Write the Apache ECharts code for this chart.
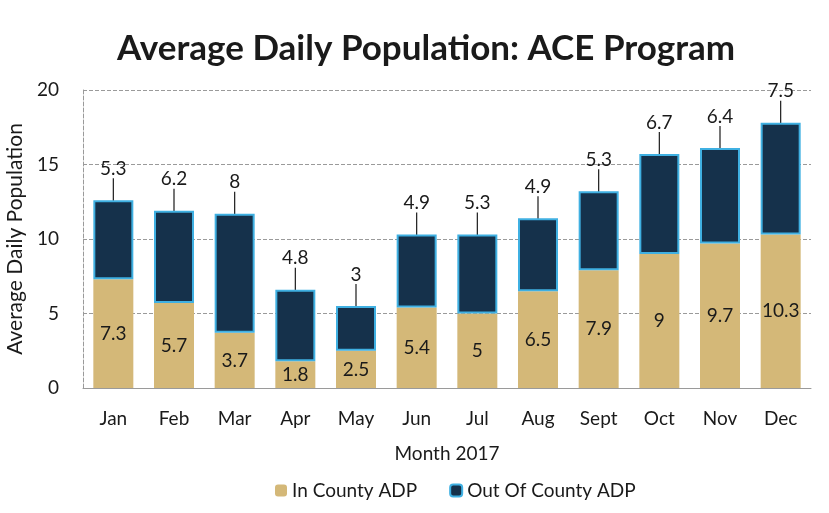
<!DOCTYPE html>
<html>
<head>
<meta charset="utf-8">
<script src="https://cdn.jsdelivr.net/npm/echarts@6/dist/echarts.min.js"></script>
<style>
  html, body { margin: 0; padding: 0; background: #fff; }
  #chart { width: 829px; height: 513px; }
</style>
</head>
<body>
<div id="chart"></div>
<script>
const months = ['Jan', 'Feb', 'Mar', 'Apr', 'May', 'Jun', 'Jul', 'Aug', 'Sept', 'Oct', 'Nov', 'Dec'];
const inCounty = [7.3, 5.7, 3.7, 1.8, 2.5, 5.4, 5, 6.5, 7.9, 9, 9.7, 10.3];
const outCounty = [5.3, 6.2, 8, 4.8, 3, 4.9, 5.3, 4.9, 5.3, 6.7, 6.4, 7.5];

const font = 'Lato, "Open Sans", sans-serif';
const chart = echarts.init(document.getElementById('chart'));

chart.setOption({
  animation: false,
  textStyle: { fontFamily: font },
  title: {
    text: 'Average Daily Population: ACE Program',
    left: 112,
    top: 26,
    textStyle: { fontSize: 35, fontWeight: 'bold', color: '#1a1a1a', fontFamily: font }
  },
  legend: {
    bottom: 8,
    left: 270,
    itemWidth: 12,
    itemHeight: 12,
    itemGap: 32,
    textStyle: { fontSize: 19, color: '#1a1a1a' },
    data: ['In County ADP', 'Out Of County ADP']
  },
  grid: { left: 83, right: 18, top: 90, bottom: 125, outerBoundsMode: 'none' },
  xAxis: {
    type: 'category',
    data: months,
    name: 'Month 2017',
    nameLocation: 'middle',
    nameGap: 56,
    nameTextStyle: { fontSize: 19, color: '#1a1a1a' },
    axisTick: { show: false },
    axisLine: { lineStyle: { color: '#9a9a9a' } },
    axisLabel: { fontSize: 19, color: '#1a1a1a', margin: 21 }
  },
  yAxis: {
    type: 'value',
    min: 0,
    max: 20,
    interval: 5,
    name: 'Average Daily Population',
    nameLocation: 'middle',
    nameGap: 46,
    nameTextStyle: { fontSize: 21, color: '#1a1a1a' },
    axisLine: { show: true, lineStyle: { color: '#9a9a9a', type: 'dashed' } },
    axisLabel: { fontSize: 19, color: '#1a1a1a', margin: 24 },
    splitLine: { lineStyle: { color: '#9a9a9a', type: 'dashed' } }
  },
  series: [
    {
      name: 'In County ADP',
      type: 'bar',
      stack: 'adp',
      barWidth: 40,
      data: inCounty,
      itemStyle: { color: '#d4b878' },
      label: { show: true, position: 'inside', fontSize: 19, color: '#1a1a1a' }
    },
    {
      name: 'Out Of County ADP',
      type: 'bar',
      stack: 'adp',
      barWidth: 40,
      data: outCounty,
      itemStyle: { color: '#15314b', borderColor: '#3fb0e2', borderWidth: 2 },
      label: { show: true, position: 'top', distance: 4, fontSize: 19, color: '#1a1a1a' },
      labelLayout: { dy: -18 },
      labelLine: { show: true, lineStyle: { color: '#1a1a1a', width: 1.2 } }
    }
  ]
});
</script>
</body>
</html>
